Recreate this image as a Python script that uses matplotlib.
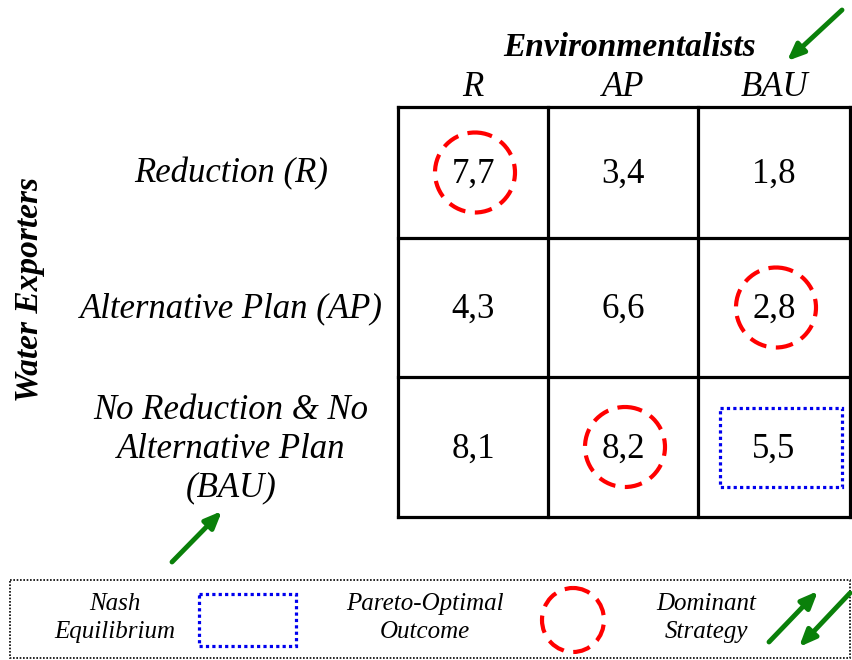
import matplotlib.pyplot as plt
from matplotlib.patches import Ellipse, Rectangle

# Payoff matrix (Water Exporters, Environmentalists)
row_labels = ["Reduction (R)", "Alternative Plan (AP)",
              "No Reduction & No\nAlternative Plan\n(BAU)"]
col_labels = ["R", "AP", "BAU"]
payoffs = [["7,7", "3,4", "1,8"],
           ["4,3", "6,6", "2,8"],
           ["8,1", "8,2", "5,5"]]
pareto_cells = [(0, 0), (1, 2), (2, 1)]
nash_cell = (2, 2)

# Grid layout in pixel units
col_edges = [398, 548, 698, 850]
row_edges = [107, 238, 377, 517]

plt.rcParams["font.family"] = ["Liberation Serif", "DejaVu Serif"]

fig = plt.figure(figsize=(8.52, 6.6), dpi=100)
ax = fig.add_axes([0, 0, 1, 1])
ax.set_xlim(0, 852)
ax.set_ylim(660, 0)
ax.axis("off")

green = "#0a800a"
dashes = (0, (4.2, 2.3))

# Grid lines
for x in col_edges:
    ax.plot([x, x], [row_edges[0], row_edges[-1]], color="black", lw=2.3, solid_capstyle="projecting")
for y in row_edges:
    ax.plot([col_edges[0], col_edges[-1]], [y, y], color="black", lw=2.3, solid_capstyle="projecting")

col_centers = [(col_edges[i] + col_edges[i + 1]) / 2 for i in range(3)]
row_centers = [(row_edges[i] + row_edges[i + 1]) / 2 + 2 for i in range(3)]

# Cell payoffs
for i in range(3):
    for j in range(3):
        ax.text(col_centers[j], row_centers[i], payoffs[i][j], fontsize=25,
                ha="center", va="center")

# Column and row headers
for j, lab in enumerate(col_labels):
    ax.text(col_centers[j], 88, lab, fontsize=25, style="italic", ha="center", va="center")
for i, lab in enumerate(row_labels):
    ax.text(231, row_centers[i] - 1 if i < 2 else 449, lab, fontsize=25, style="italic",
            ha="center", va="center", linespacing=1.22)

ax.text(630, 47, "Environmentalists", fontsize=24, style="italic", weight="bold",
        ha="center", va="center")
ax.text(30, 290, "Water Exporters", fontsize=24, style="italic", weight="bold",
        ha="center", va="center", rotation=90)

# Pareto-optimal circles
for i, j in pareto_cells:
    ax.add_patch(Ellipse((col_centers[j] + 2, row_centers[i] - 2), 80, 80, fill=False,
                         edgecolor="red", lw=3, linestyle=dashes))

# Nash equilibrium box
ni, nj = nash_cell
ax.add_patch(Rectangle((720, 408), 122, 79, fill=False, edgecolor="#0000ee",
                       lw=2.3, linestyle=(0, (1, 1))))

# Dominant strategy arrows
def arrow(x0, y0, x1, y1):
    ax.annotate("", xy=(x1, y1), xytext=(x0, y0),
                arrowprops=dict(arrowstyle="-|>,head_length=1.0,head_width=0.42",
                                color=green, lw=3.5, shrinkA=0, shrinkB=0))

arrow(842, 10, 787, 61)
arrow(172, 562, 222, 511)

# Legend box
ax.add_patch(Rectangle((10, 580), 840, 78, fill=False, edgecolor="black",
                       lw=1.2, linestyle=(0, (1, 1))))
ax.text(115, 618, "Nash\nEquilibrium", fontsize=18, style="italic", ha="center", va="center",
        linespacing=1.3)
ax.add_patch(Rectangle((199, 594), 97, 52, fill=False, edgecolor="#0000ee",
                       lw=2.3, linestyle=(0, (1, 1))))
ax.text(425, 618, "Pareto-Optimal\nOutcome", fontsize=18, style="italic", ha="center",
        va="center", linespacing=1.3)
ax.add_patch(Ellipse((573, 620), 62, 64, fill=False, edgecolor="red", lw=3,
                     linestyle=dashes))
ax.text(706, 618, "Dominant\nStrategy", fontsize=18, style="italic", ha="center",
        va="center", linespacing=1.3)
arrow(769, 642, 818, 591)
arrow(850, 593, 799, 647)

fig.savefig("out.png", dpi=100)
